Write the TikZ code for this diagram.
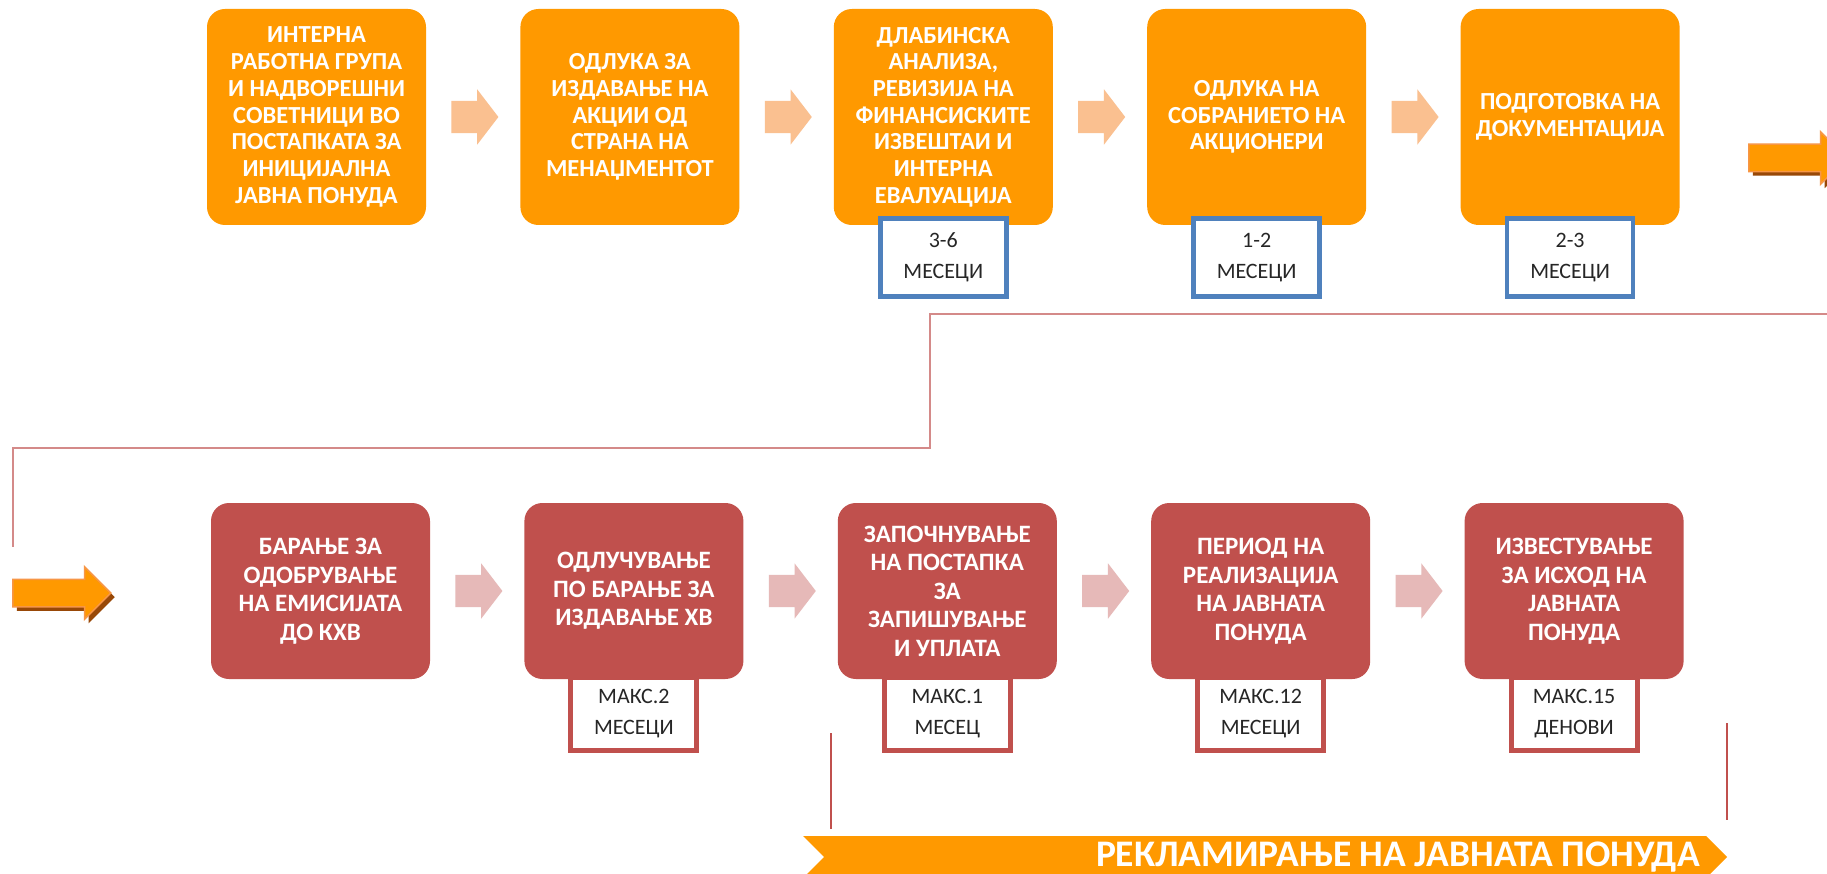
\documentclass[tikz,border=0pt]{standalone}
\usepackage{fontspec}
\setmainfont{Carlito}
\usetikzlibrary{positioning,shapes.arrows,shadows}

\definecolor{boxOrange}{HTML}{FF9900}
\definecolor{boxRed}{HTML}{C0504D}
\definecolor{durBlue}{HTML}{4F81BD}
\definecolor{arrowTop}{HTML}{FAC090}
\definecolor{arrowLow}{HTML}{E6B9B8}
\definecolor{flowLine}{HTML}{D48A89}
\definecolor{arrowEdge}{HTML}{F79646}
\definecolor{arrowShadow}{HTML}{984807}

\begin{document}
\begin{tikzpicture}[x=1pt, y=-1pt,
    topbox/.style={fill=boxOrange, rounded corners=18pt, minimum width=219pt,
                   minimum height=216pt, inner sep=0pt, text=white, align=center,
                   font=\bfseries\fontsize{24.5}{26.7}\selectfont},
    lowbox/.style={topbox, fill=boxRed, minimum height=176pt,
                   font=\bfseries\fontsize{25}{28.5}\selectfont},
    durbox/.style={draw=durBlue, line width=4.5pt, fill=white, minimum width=126pt,
                   minimum height=78pt, inner sep=0pt, align=center, text=black!85,
                   font=\fontsize{22}{31}\selectfont},
    maxbox/.style={durbox, draw=boxRed, line width=5pt, minimum height=73pt},
    steparrow/.style={single arrow, fill=arrowTop, anchor=tail, inner xsep=0pt,
                      inner ysep=16pt, single arrow head extend=11.5pt,
                      single arrow tip angle=105, minimum height=47pt},
    lowarrow/.style={steparrow, fill=arrowLow},
    bigarrow/.style={single arrow, fill=boxOrange, draw=arrowEdge, line width=1.5pt,
                     anchor=tail, inner xsep=0pt, inner ysep=13pt,
                     single arrow head extend=12.5pt, single arrow tip angle=90,
                     minimum height=98pt,
                     drop shadow={shadow xshift=4pt, shadow yshift=-4pt,
                                  fill=arrowShadow, opacity=1}},
    flow/.style={draw=flowLine, line width=2.5pt},
    bar/.style={draw=boxRed, line width=2pt}
]
\useasboundingbox (0,0) rectangle (1827,874);
\fill[white] (0,0) rectangle (1827,874);

% upper row
\node[topbox] (t1) at (316.5,117) {ИНТЕРНА\\РАБОТНА ГРУПА\\И НАДВОРЕШНИ\\СОВЕТНИЦИ ВО\\ПОСТАПКАТА ЗА\\ИНИЦИЈАЛНА\\ЈАВНА ПОНУДА};
\node[topbox, right=94pt of t1] (t2) {ОДЛУКА ЗА\\ИЗДАВАЊЕ НА\\АКЦИИ ОД\\СТРАНА НА\\МЕНАЏМЕНТОТ};
\node[topbox, right=94pt of t2] (t3) {ДЛАБИНСКА\\АНАЛИЗА,\\РЕВИЗИЈА НА\\ФИНАНСИСКИТЕ\\ИЗВЕШТАИ И\\ИНТЕРНА\\ЕВАЛУАЦИЈА};
\node[topbox, right=94pt of t3] (t4) {ОДЛУКА НА\\СОБРАНИЕТО НА\\АКЦИОНЕРИ};
\node[topbox, right=94pt of t4] (t5) {ПОДГОТОВКА НА\\ДОКУМЕНТАЦИЈА};

\node[durbox, below=-9pt of t3] (d3) {3-6\\МЕСЕЦИ};
\node[durbox, below=-9pt of t4] (d4) {1-2\\МЕСЕЦИ};
\node[durbox, below=-9pt of t5] (d5) {2-3\\МЕСЕЦИ};

\node[steparrow] (a1) at ([xshift=25pt]t1.east) {};
\node[steparrow] (a2) at ([xshift=25pt]t2.east) {};
\node[steparrow] (a3) at ([xshift=25pt]t3.east) {};
\node[steparrow] (a4) at ([xshift=25pt]t4.east) {};

% lower row
\node[lowbox] (b1) at (320.5,591) {БАРАЊЕ ЗА\\ОДОБРУВАЊЕ\\НА ЕМИСИЈАТА\\ДО КХВ};
\node[lowbox, right=94pt of b1] (b2) {ОДЛУЧУВАЊЕ\\ПО БАРАЊЕ ЗА\\ИЗДАВАЊЕ ХВ};
\node[lowbox, right=94pt of b2] (b3) {ЗАПОЧНУВАЊЕ\\НА ПОСТАПКА\\ЗА\\ЗАПИШУВАЊЕ\\И УПЛАТА};
\node[lowbox, right=94pt of b3] (b4) {ПЕРИОД НА\\РЕАЛИЗАЦИЈА\\НА ЈАВНАТА\\ПОНУДА};
\node[lowbox, right=94pt of b4] (b5) {ИЗВЕСТУВАЊЕ\\ЗА ИСХОД НА\\ЈАВНАТА\\ПОНУДА};

\node[maxbox, below=-4.5pt of b2] (m2) {МАКС.2\\МЕСЕЦИ};
\node[maxbox, below=-4.5pt of b3] (m3) {МАКС.1\\МЕСЕЦ};
\node[maxbox, below=-4.5pt of b4] (m4) {МАКС.12\\МЕСЕЦИ};
\node[maxbox, below=-4.5pt of b5] (m5) {МАКС.15\\ДЕНОВИ};

\node[lowarrow] (c1) at ([xshift=25pt]b1.east) {};
\node[lowarrow] (c2) at ([xshift=25pt]b2.east) {};
\node[lowarrow] (c3) at ([xshift=25pt]b3.east) {};
\node[lowarrow] (c4) at ([xshift=25pt]b4.east) {};

% row change
\node[bigarrow] (outArrow) at (1748,158) {};
\node[bigarrow] (inArrow) at (12,593) {};

\coordinate (lineStart) at (1827,314);
\coordinate (lineTurn1) at (930,314);
\coordinate (lineTurn2) at (930,448);
\coordinate (lineTurn3) at (13,448);
\coordinate (lineEnd) at (13,547);
\draw[flow] (lineStart) -- (lineTurn1) -- (lineTurn2) -- (lineTurn3) -- (lineEnd);

% advertising period
\coordinate (barL1) at (831,733);
\coordinate (barL2) at (831,829);
\coordinate (barR1) at (1727,723);
\coordinate (barR2) at (1727,820);
\draw[bar] (barL1) -- (barL2);
\draw[bar] (barR1) -- (barR2);

\fill[boxOrange] (803,836) -- (1706,836) -- (1727,857) -- (1706,878)
                 -- (803,878) -- (824,857) -- cycle;
\node[anchor=east, text=white, inner sep=0pt,
      font=\bfseries\fontsize{37.5}{40}\selectfont] (adText) at (1700,857)
      {РЕКЛАМИРАЊЕ НА ЈАВНАТА ПОНУДА};

\end{tikzpicture}
\end{document}
